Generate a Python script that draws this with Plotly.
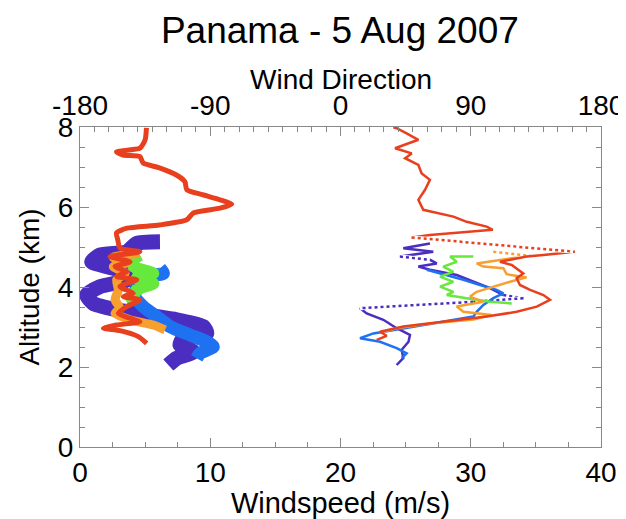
import plotly.graph_objects as go

# windspeed profiles (bottom axis, m/s) vs altitude (km)
spd_red = [5.1, 5.0, 4.6, 2.8, 3.3, 4.6, 4.85, 6.1, 7.4, 8.06, 8.2, 9.5, 10.75, 11.65, 10.75, 8.7, 8.2, 6.1,
           3.6, 2.8, 2.9, 3.07, 4.6, 2.3, 3.84, 2.69, 3.58, 2.82, 4.35, 3.07, 4.09, 3.33, 4.6, 3.58, 2.94,
           3.84, 4.6, 2.8, 1.79, 3.07, 4.48, 5.12]
alt_red_s = [7.98, 7.68, 7.47, 7.38, 7.3, 7.26, 7.1, 6.98, 6.8, 6.63, 6.43, 6.3, 6.18, 6.07, 5.97, 5.85, 5.68, 5.55,
             5.47, 5.35, 5.18, 4.97, 4.88, 4.76, 4.63, 4.51, 4.38, 4.26, 4.18, 4.01, 3.84, 3.76, 3.68, 3.51, 3.34,
             3.22, 3.13, 3.05, 2.97, 2.91, 2.76, 2.59]

spd_purple = [6.14, 4.35, 3.58, 1.54, 0.9, 2.05, 3.33, 3.58, 1.54, 0.51, 1.02, 2.82, 5.12, 7.42, 9.47, 9.73,
              7.93, 7.68, 8.7, 7.42, 6.78]
alt_purple_s = [5.13, 5.09, 4.88, 4.8, 4.63, 4.51, 4.38, 4.18, 4.01, 3.8, 3.59, 3.43, 3.3, 3.18, 3.01, 2.84,
                2.72, 2.55, 2.38, 2.22, 2.05]

spd_blue = [6.14, 6.4, 5.12, 4.35, 4.22, 4.86, 5.89, 6.91, 8.45, 9.73, 10.24, 9.21, 8.96]
alt_blue_s = [4.47, 4.34, 4.26, 4.01, 3.76, 3.51, 3.26, 3.01, 2.8, 2.63, 2.51, 2.34, 2.22]

spd_green = [4.6, 4.09, 4.09, 5.63, 4.35, 5.63, 4.35, 4.09, 3.58]
alt_green_s = [4.8, 4.68, 4.51, 4.34, 4.22, 4.09, 3.93, 3.76, 3.63]

spd_orange = [4.6, 2.56, 3.58, 2.56, 3.46, 2.82, 2.94, 2.69, 3.07, 2.69, 3.84, 5.63, 6.53]
alt_orange_s = [4.84, 4.74, 4.61, 4.51, 4.34, 4.18, 3.93, 3.68, 3.47, 3.34, 3.18, 3.05, 2.93]

# wind direction profiles (top axis, degrees) vs altitude (km)
dir_red = [36.5, 38.8, 45.7, 53.8, 37.7, 49.2, 44.6, 53.8, 56.1, 61.8, 58.4, 53.8, 57.2, 78, 87.2, 101, 105.2,
           61.8, 49.2, 162, 140.2, 128.6, 110.2, 118.3, 126.3, 121.7, 124, 131, 140.2, 144.8, 135.6, 121.7,
           101, 68.8, 43.4, 27.3, 31.9, 25]
alt_red_d = [7.99, 7.97, 7.84, 7.68, 7.47, 7.34, 7.22, 7.05, 6.84, 6.68, 6.43, 6.18, 5.93, 5.76, 5.63, 5.51, 5.43,
             5.3, 5.24, 4.88, 4.8, 4.76, 4.63, 4.55, 4.34, 4.22, 4.05, 3.93, 3.8, 3.68, 3.51, 3.38,
             3.26, 3.13, 3.01, 2.88, 2.78, 2.68]
dot_red = [18]

dir_purple = [61.8, 43.4, 64.1, 41.1, 61.8, 66.5, 53.8, 61.8, 80.3, 91.8, 103.3, 112.5, 126.3, 91.8, 13.5,
              18.1, 29.6, 38.8, 48, 47, 42.3, 43.4, 38.8]
alt_purple_d = [5.09, 4.97, 4.88, 4.76, 4.68, 4.59, 4.51, 4.43, 4.3, 4.13, 3.97, 3.8, 3.72, 3.63, 3.47,
                3.34, 3.18, 2.97, 2.8, 2.63, 2.43, 2.22, 2.05]
dot_purple = [3, 11, 12, 13]

dir_blue = [59.6, 73.4, 84.9, 96.4, 107.9, 112.5, 105.6, 98.7, 94.1, 91.8, 57.2, 22.7, 13.5, 27.3, 38.8, 45.7, 42.3]
alt_blue_d = [4.43, 4.3, 4.18, 4.05, 3.93, 3.84, 3.72, 3.55, 3.38, 3.26, 3.05, 2.84, 2.72, 2.63, 2.47, 2.34, 2.22]
dot_blue = []

dir_green = [91.8, 75.7, 80.3, 71, 78, 68.8, 78, 68.8, 78, 73.4, 87.2, 103.3, 118.3]
alt_green_d = [4.76, 4.76, 4.63, 4.51, 4.38, 4.26, 4.13, 4.01, 3.88, 3.8, 3.72, 3.63, 3.59]
dot_green = []

dir_orange = [105.6, 131, 112.5, 94.1, 98.7, 112.5, 114.8, 128.6, 117.1, 105.6, 94.1, 89.5, 98.7, 80.3, 84.9,
              104.5, 91.8, 61.8, 38.8, 29.6]
alt_orange_d = [4.88, 4.78, 4.69, 4.59, 4.51, 4.47, 4.32, 4.24, 4.13, 4.01, 3.88, 3.76, 3.63, 3.51, 3.38,
                3.3, 3.19, 3.09, 2.97, 2.88]
dot_orange = [0]

speed_ticks = [0, 10, 20, 30, 40]
dir_ticks = [-180, -90, 0, 90, 180]
dir_labels = ["-180", "-90", "0", "90", "180"]
alt_ticks = [0, 2, 4, 6, 8]

RED = "#E8401E"
PURPLE = "#4B2DC0"
BLUE = "#1E72F2"
GREEN = "#66E83C"
ORANGE = "#F7A030"
FONT = "Liberation Sans, Arial, sans-serif"

fig = go.Figure()

# thick windspeed traces
for x, y, c, w in [(spd_purple, alt_purple_s, PURPLE, 15), (spd_blue, alt_blue_s, BLUE, 13),
                   (spd_green, alt_green_s, GREEN, 12), (spd_orange, alt_orange_s, ORANGE, 9),
                   (spd_red, alt_red_s, RED, 5)]:
    fig.add_trace(go.Scatter(x=x, y=y, mode="lines", line=dict(color=c, width=w, shape="spline", smoothing=0.6),
                             showlegend=False, xaxis="x", yaxis="y"))


def add_direction(x, y, c, dots):
    # solid parts, with the big jumps drawn dotted
    fig.add_trace(go.Scatter(x=x, y=y, mode="lines", line=dict(color=c, width=2.5),
                             showlegend=False, xaxis="x2", yaxis="y"))
    for i in dots:
        fig.add_trace(go.Scatter(x=x[i:i + 2], y=y[i:i + 2], mode="lines",
                                 line=dict(color="white", width=4), showlegend=False, xaxis="x2", yaxis="y"))
        fig.add_trace(go.Scatter(x=x[i:i + 2], y=y[i:i + 2], mode="lines",
                                 line=dict(color=c, width=2.5, dash="dot"), showlegend=False, xaxis="x2", yaxis="y"))


add_direction(dir_purple, alt_purple_d, PURPLE, dot_purple)
add_direction(dir_blue, alt_blue_d, BLUE, dot_blue)
add_direction(dir_green, alt_green_d, GREEN, dot_green)
add_direction(dir_orange, alt_orange_d, ORANGE, dot_orange)
add_direction(dir_red, alt_red_d, RED, dot_red)

axis_common = dict(showline=True, linecolor="#888", linewidth=1, ticks="inside", tickcolor="#888",
                   ticklen=9, showgrid=False, zeroline=False, automargin=False,
                   tickfont=dict(size=28, color="black"))

# the page adds an 8px body margin, so the figure is a little smaller than the window
fig.update_layout(
    width=618, height=511,
    margin=dict(l=72, r=25, t=119, b=72),
    paper_bgcolor="white", plot_bgcolor="white",
    font=dict(family=FONT, color="black"),
    title=dict(text="Panama - 5 Aug 2007", x=0.537, xanchor="center", y=1 - 22 / 511, yanchor="middle",
               yref="container", font=dict(size=37)),
    xaxis=dict(range=[0, 40], tickvals=speed_ticks, side="bottom",
               title=dict(text="Windspeed (m/s)", font=dict(size=29), standoff=2),
               minor=dict(dtick=2.5, ticks="inside", ticklen=5, tickcolor="#888"), **axis_common),
    xaxis2=dict(range=[-180, 180], tickvals=dir_ticks, ticktext=dir_labels, overlaying="x", side="top",
                anchor="y", minor=dict(dtick=10, ticks="inside", ticklen=5, tickcolor="#888"), **axis_common),
    yaxis=dict(range=[0, 8], tickvals=alt_ticks, mirror="ticks",
               title=dict(text="Altitude (km)", font=dict(size=28), standoff=10),
               minor=dict(dtick=0.5, ticks="inside", ticklen=5, tickcolor="#888"), **axis_common),
    annotations=[dict(text="Wind Direction", xref="paper", yref="paper", x=0.5, y=1.147,
                      xanchor="center", yanchor="middle", showarrow=False, font=dict(size=28))],
)

fig.write_html("out.html")
